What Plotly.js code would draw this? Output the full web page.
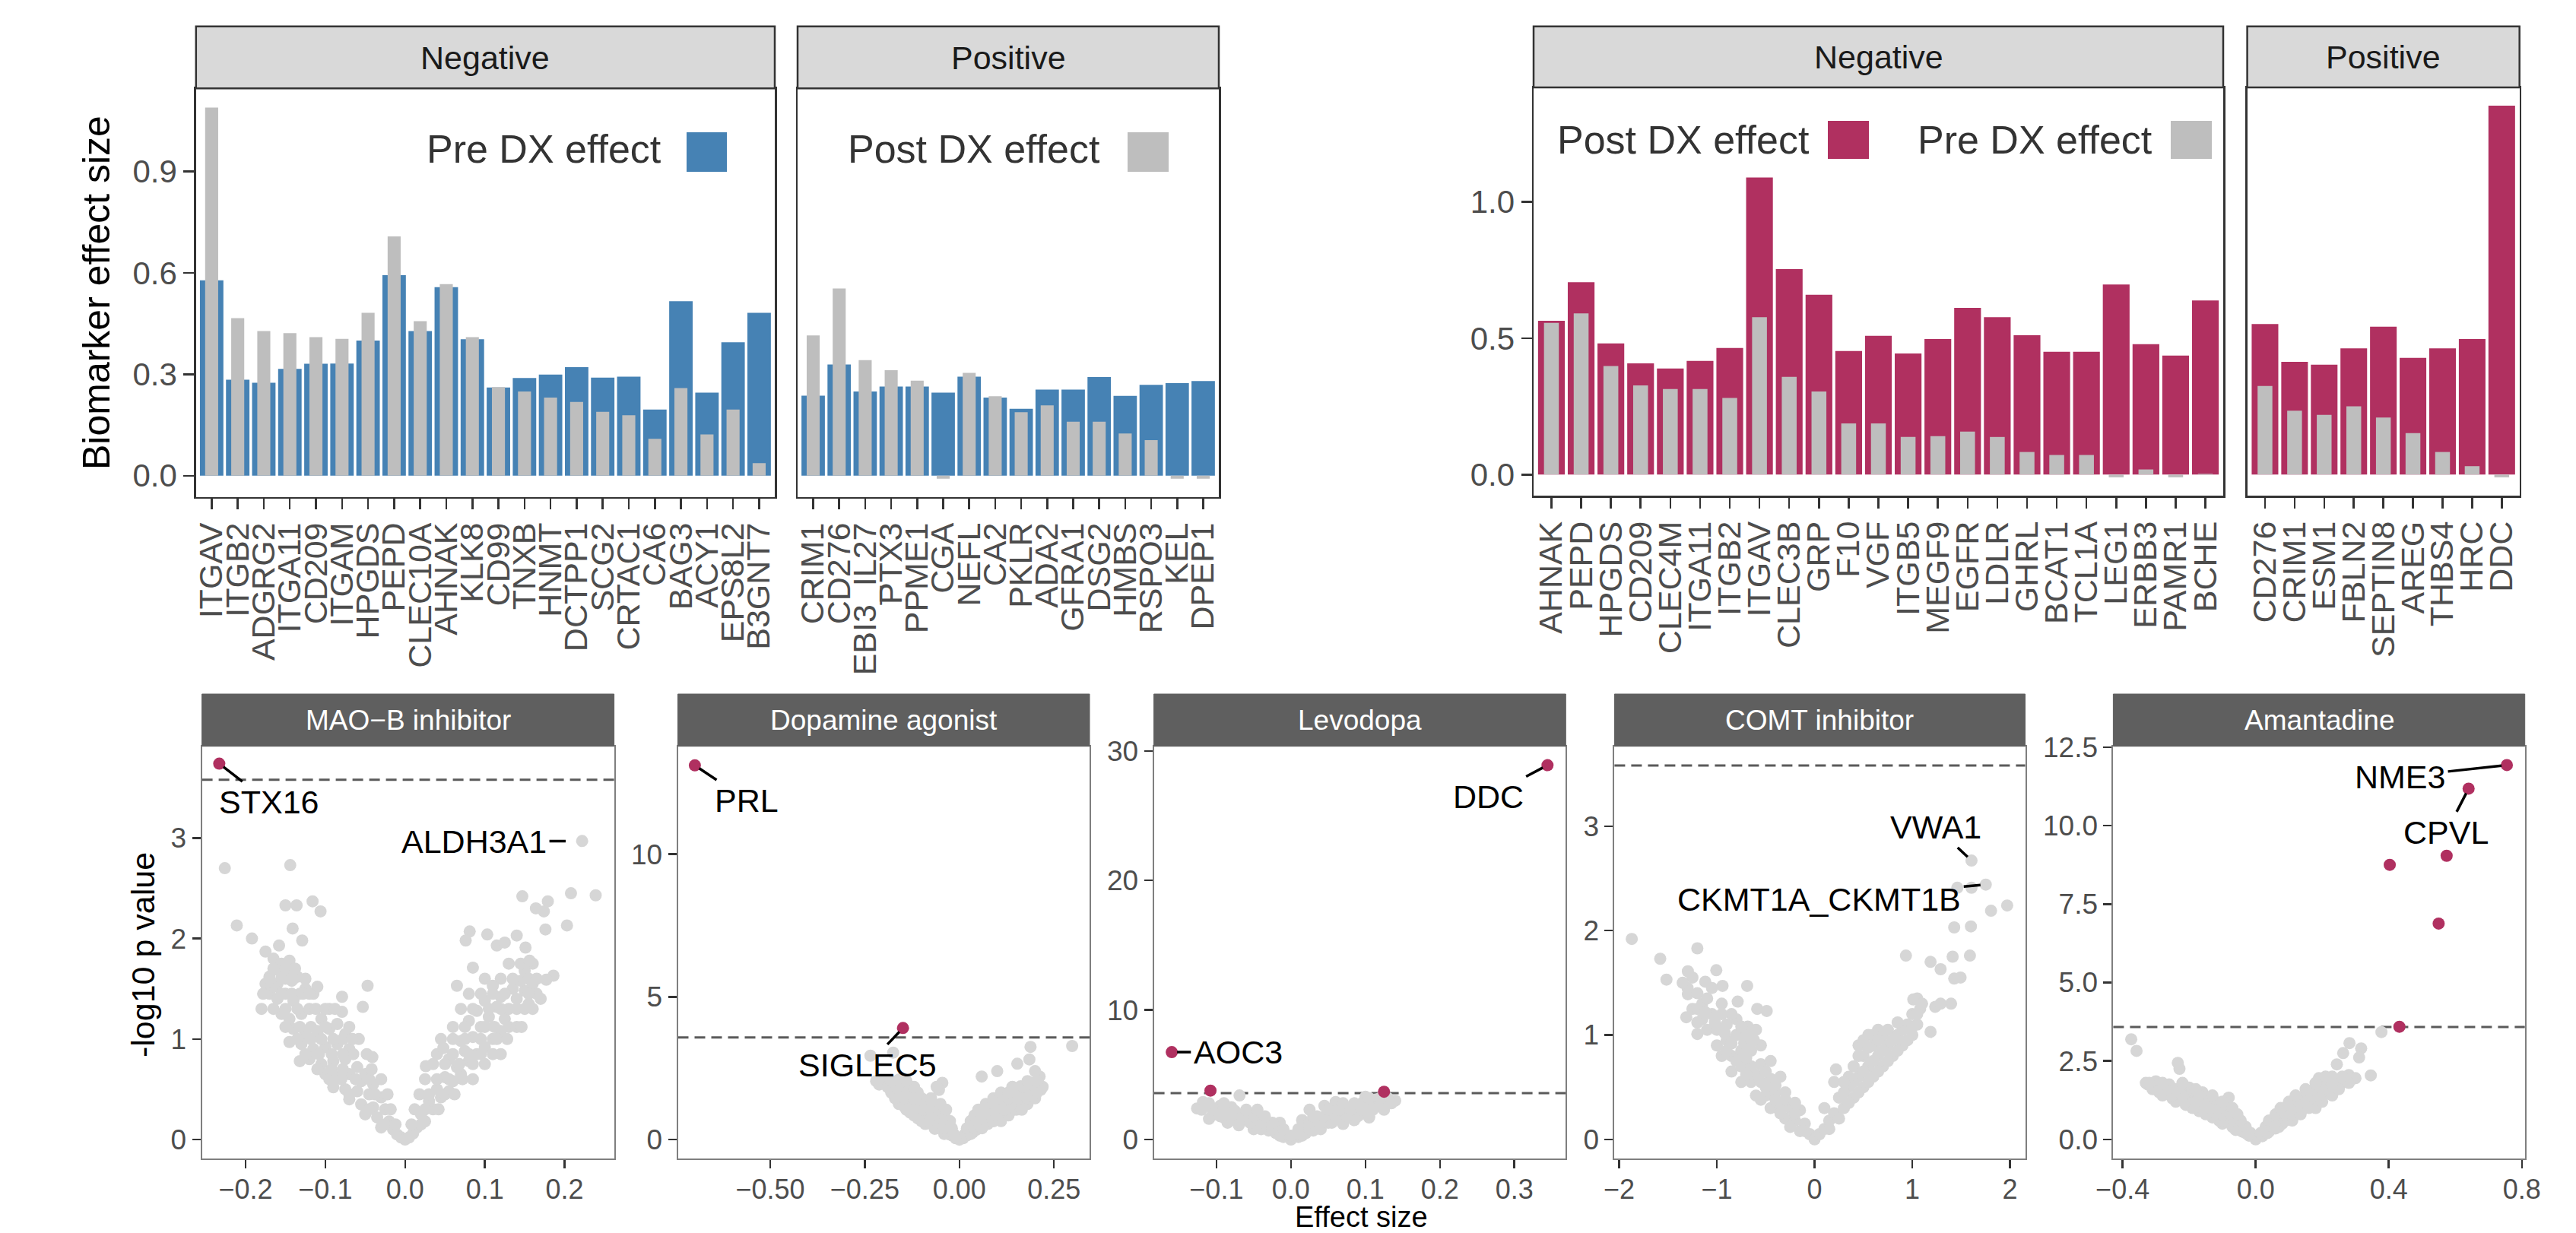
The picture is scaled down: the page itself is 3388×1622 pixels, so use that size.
<!DOCTYPE html>
<html><head><meta charset="utf-8">
<script src="https://cdn.plot.ly/plotly-3.0.1.min.js"></script>
<style>html,body{margin:0;padding:0;background:#fff;}#chart{width:3388px;height:1622px;}</style>
</head><body><div id="chart"></div>
<script>
// ================= DATA =================
// Top-left: markers ranked by Pre DX effect
const tlNegGenes = ["ITGAV","ITGB2","ADGRG2","ITGA11","CD209","ITGAM","HPGDS","PEPD","CLEC10A","AHNAK","KLK8","CD99","TNXB","HNMT","DCTPP1","SCG2","CRTAC1","CA6","BAG3","ACY1","EPS8L2","B3GNT7"];
const tlNegPre  = [0.578,0.284,0.275,0.316,0.331,0.332,0.400,0.593,0.428,0.558,0.404,0.261,0.289,0.299,0.321,0.290,0.293,0.196,0.516,0.246,0.395,0.482];
const tlNegPost = [1.089,0.466,0.428,0.422,0.410,0.405,0.482,0.708,0.457,0.567,0.410,0.262,0.249,0.231,0.218,0.189,0.179,0.109,0.259,0.122,0.196,0.037];
const tlPosGenes = ["CRIM1","CD276","EBI3_IL27","PTX3","PPME1","CGA","NEFL","CA2","PKLR","ADA2","GFRA1","DSG2","HMBS","RSPO3","KEL","DPEP1"];
const tlPosPre  = [0.237,0.329,0.249,0.264,0.264,0.246,0.293,0.231,0.198,0.255,0.255,0.292,0.236,0.269,0.274,0.280];
const tlPosPost = [0.415,0.554,0.342,0.312,0.281,-0.009,0.304,0.235,0.188,0.208,0.160,0.160,0.125,0.105,-0.009,-0.009];

// Top-right: markers ranked by Post DX effect
const trNegGenes = ["AHNAK","PEPD","HPGDS","CD209","CLEC4M","ITGA11","ITGB2","ITGAV","CLEC3B","GRP","F10","VGF","ITGB5","MEGF9","EGFR","LDLR","GHRL","BCAT1","TCL1A","LEG1","ERBB3","PAMR1","BCHE"];
const trNegPost = [0.564,0.705,0.481,0.408,0.389,0.417,0.464,1.089,0.753,0.659,0.453,0.509,0.444,0.497,0.611,0.577,0.511,0.450,0.450,0.697,0.478,0.436,0.638];
const trNegPre  = [0.556,0.591,0.398,0.327,0.314,0.314,0.281,0.577,0.358,0.305,0.188,0.188,0.138,0.141,0.158,0.138,0.083,0.072,0.072,-0.010,0.019,-0.010,0.003];
const trPosGenes = ["CD276","CRIM1","ESM1","FBLN2","SEPTIN8","AREG","THBS4","HRC","DDC"];
const trPosPost = [0.552,0.413,0.403,0.463,0.542,0.428,0.463,0.497,1.352];
const trPosPre  = [0.325,0.234,0.219,0.250,0.209,0.152,0.083,0.031,-0.010];

// Volcano panels: [effect size, -log10 p]
const threshold = 3.58;
const maobGrey = [[-0.226,2.70],[-0.144,2.73],[-0.150,2.33],[-0.136,2.33],[-0.116,2.37],[-0.106,2.27],[-0.211,2.13],[-0.192,2.00],[-0.141,2.10],[-0.129,1.98],[-0.175,1.87],[-0.158,1.93],[-0.180,1.30],[-0.047,1.53],[-0.053,1.32],[-0.079,1.42],[-0.079,1.27],[-0.058,1.00],[-0.041,0.82],[-0.145,0.97],[-0.132,0.78],
[-0.165,1.80],[-0.155,1.75],[-0.145,1.78],[-0.170,1.62],[-0.160,1.55],[-0.150,1.60],[-0.135,1.62],[-0.125,1.50],[-0.170,1.45],[-0.160,1.40],[-0.150,1.45],[-0.140,1.38],[-0.115,1.45],[-0.110,1.52],[-0.155,1.25],[-0.145,1.20],[-0.130,1.25],[-0.120,1.30],[-0.105,1.20],[-0.095,1.30],[-0.140,1.10],[-0.125,1.05],[-0.110,1.08],[-0.095,1.10],[-0.085,1.15],[-0.075,1.05],[-0.130,0.95],[-0.115,0.90],[-0.100,0.92],[-0.085,0.95],[-0.070,0.90],[-0.065,0.85],[-0.120,0.80],[-0.105,0.75],[-0.090,0.78],[-0.075,0.80],[-0.060,0.72],[-0.050,0.65],[-0.100,0.65],[-0.085,0.62],[-0.070,0.65],[-0.055,0.58],[-0.040,0.55],[-0.090,0.52],[-0.075,0.50],[-0.060,0.48],[-0.045,0.45],[-0.030,0.42],[-0.070,0.40],[-0.055,0.35],[-0.040,0.32],[-0.025,0.30],[-0.050,0.25],[-0.035,0.22],[-0.020,0.18],[-0.030,0.12],[-0.015,0.10],[-0.010,0.05],[-0.005,0.02],[0.000,0.00],
[-0.158,1.68],[-0.148,1.67],[-0.142,1.58],[-0.132,1.45],[-0.165,1.52],[-0.175,1.55],
[-0.025,0.15],[-0.012,0.15],[-0.045,0.30],[-0.018,0.30],[-0.070,0.45],[-0.038,0.45],[-0.022,0.45],[-0.095,0.60],[-0.080,0.60],[-0.062,0.60],[-0.045,0.60],[-0.030,0.60],[-0.110,0.70],[-0.092,0.70],[-0.078,0.70],[-0.042,0.70],[-0.125,0.85],[-0.108,0.85],[-0.092,0.85],[-0.078,0.85],[-0.048,0.85],[-0.135,1.00],[-0.118,1.00],[-0.105,1.00],[-0.090,1.00],[-0.078,1.00],[-0.066,1.00],[-0.150,1.12],[-0.132,1.12],[-0.118,1.12],[-0.100,1.12],[-0.070,1.12],[-0.165,1.30],[-0.150,1.30],[-0.135,1.30],[-0.112,1.30],[-0.100,1.30],[-0.088,1.30],[-0.178,1.45],[-0.155,1.45],[-0.142,1.45],[-0.128,1.45],[-0.120,1.45],[-0.170,1.60],[-0.155,1.60],[-0.140,1.60],[-0.125,1.60],[-0.165,1.70],[-0.150,1.70],[-0.138,1.70],
[0.005,0.02],[0.010,0.06],[0.015,0.12],[0.025,0.18],[0.020,0.25],[0.035,0.30],[0.030,0.38],[0.045,0.42],[0.055,0.48],[0.040,0.50],[0.060,0.58],[0.050,0.62],[0.070,0.65],[0.065,0.72],[0.080,0.78],[0.055,0.80],[0.075,0.88],[0.090,0.85],[0.100,0.92],[0.070,0.98],[0.085,1.02],[0.110,1.00],[0.120,1.08],[0.095,1.12],[0.080,1.18],[0.105,1.22],[0.125,1.20],[0.090,1.28],[0.115,1.32],[0.130,1.30],[0.100,1.38],[0.120,1.42],[0.140,1.40],[0.135,1.50],[0.150,1.48],[0.145,1.58],[0.160,1.55],[0.150,1.68],[0.165,1.45],[0.170,1.40],[0.155,1.35],
[0.008,0.15],[0.020,0.15],[0.012,0.30],[0.025,0.30],[0.042,0.30],[0.018,0.45],[0.030,0.45],[0.050,0.45],[0.062,0.45],[0.025,0.60],[0.040,0.60],[0.055,0.60],[0.072,0.60],[0.085,0.60],[0.035,0.75],[0.050,0.75],[0.068,0.75],[0.085,0.75],[0.100,0.75],[0.040,0.85],[0.060,0.85],[0.080,0.85],[0.095,0.85],[0.110,0.85],[0.120,0.85],[0.045,1.00],[0.060,1.00],[0.075,1.00],[0.095,1.00],[0.115,1.00],[0.128,1.00],[0.060,1.12],[0.075,1.12],[0.100,1.12],[0.112,1.12],[0.130,1.12],[0.140,1.12],[0.070,1.30],[0.085,1.30],[0.105,1.30],[0.120,1.30],[0.140,1.30],[0.150,1.30],[0.080,1.45],[0.095,1.45],[0.110,1.45],[0.125,1.45],[0.155,1.45],[0.100,1.60],[0.120,1.60],[0.135,1.60],[0.155,1.60],[0.165,1.60],[0.130,1.75],[0.145,1.75],[0.160,1.75],
[0.147,2.42],[0.164,2.30],[0.179,2.37],[0.174,2.27],[0.208,2.45],[0.239,2.43],[0.203,2.13],[0.176,2.09],[0.186,1.63],[0.177,1.59],[0.222,2.97],[0.140,2.03],[0.103,2.04],[0.081,2.07],[0.076,1.98],[0.115,1.93],[0.125,1.96],[0.151,1.91],[0.156,1.78],[0.085,1.71],[0.065,1.53],[0.110,1.53],[0.160,1.30],[0.146,1.12],[0.048,0.91],[0.026,0.73]];
const maobSig = [[-0.233,3.74]];
const maobLabelGenes = ["STX16","ALDH3A1"];
const maobLabelX = [-0.233,0.208];
const maobLabelY = [3.74,2.97];

const dopaGrey = [[-0.235,2.94],[-0.175,3.05],[-0.212,1.93],[-0.185,1.99],[-0.045,1.99],[-0.054,1.74],[0.059,2.21],[0.188,3.25],[0.298,3.28],[0.185,2.81],[0.153,2.66],[0.212,2.21],[0.190,1.99],[0.162,1.87],[-0.200,2.05],[-0.160,2.10],[-0.140,1.90],
[-0.175,1.75],[-0.160,1.65],[-0.170,1.50],[-0.150,1.55],[-0.130,1.50],[-0.155,1.35],[-0.140,1.30],[-0.120,1.35],[-0.100,1.45],[-0.145,1.15],[-0.125,1.10],[-0.105,1.15],[-0.085,1.25],[-0.130,0.95],[-0.110,0.90],[-0.090,0.95],[-0.070,1.05],[-0.050,1.15],[-0.110,0.75],[-0.090,0.72],[-0.070,0.75],[-0.050,0.85],[-0.090,0.55],[-0.070,0.52],[-0.050,0.55],[-0.035,0.60],[-0.065,0.38],[-0.045,0.35],[-0.030,0.30],[-0.040,0.20],[-0.020,0.15],[-0.010,0.05],[0,0],
[-0.030,0.20],[-0.015,0.20],[-0.060,0.40],[-0.040,0.40],[-0.020,0.40],[-0.100,0.65],[-0.080,0.65],[-0.060,0.65],[-0.040,0.65],[-0.025,0.65],[-0.120,0.85],[-0.100,0.85],[-0.080,0.85],[-0.060,0.85],[-0.040,0.85],[-0.140,1.05],[-0.115,1.05],[-0.095,1.05],[-0.075,1.05],[-0.055,1.05],[-0.035,1.05],[-0.160,1.25],[-0.135,1.25],[-0.110,1.25],[-0.090,1.25],[-0.070,1.25],[-0.050,1.25],[-0.170,1.45],[-0.145,1.45],[-0.120,1.45],[-0.075,1.45],[-0.180,1.65],[-0.155,1.65],[-0.130,1.65],[-0.110,1.65],[-0.190,1.85],[-0.165,1.85],[-0.120,1.85],[-0.060,1.85],[-0.220,2.05],[-0.180,2.05],[-0.140,2.05],
[0.010,0.05],[0.020,0.15],[0.035,0.25],[0.045,0.35],[0.030,0.40],[0.060,0.45],[0.050,0.55],[0.075,0.55],[0.090,0.65],[0.060,0.70],[0.080,0.80],[0.105,0.78],[0.120,0.90],[0.090,0.95],[0.070,1.00],[0.110,1.05],[0.140,1.05],[0.130,1.20],[0.160,1.20],[0.100,1.25],[0.120,1.35],[0.150,1.40],[0.175,1.35],[0.190,1.50],[0.140,1.55],[0.170,1.60],[0.200,1.65],[0.215,1.75],[0.185,1.75],[0.205,1.90],
[0.015,0.20],[0.030,0.20],[0.020,0.40],[0.040,0.40],[0.060,0.40],[0.030,0.65],[0.050,0.65],[0.070,0.65],[0.090,0.65],[0.110,0.65],[0.040,0.85],[0.060,0.85],[0.085,0.85],[0.110,0.85],[0.130,0.85],[0.050,1.05],[0.075,1.05],[0.100,1.05],[0.120,1.05],[0.150,1.05],[0.165,1.05],[0.070,1.25],[0.090,1.25],[0.115,1.25],[0.140,1.25],[0.165,1.25],[0.180,1.25],[0.090,1.45],[0.110,1.45],[0.130,1.45],[0.155,1.45],[0.180,1.45],[0.200,1.45],[0.110,1.65],[0.130,1.65],[0.155,1.65],[0.180,1.65],[0.205,1.65],[0.140,1.85],[0.170,1.85],[0.200,1.85],[0.220,1.85],[0.180,2.05],[0.205,2.05],[0.100,2.40],[0.200,2.40]];
const dopaSig = [[-0.699,13.11],[-0.149,3.91]];
const dopaLabelGenes = ["PRL","SIGLEC5"];
const dopaLabelX = [-0.699,-0.149];
const dopaLabelY = [13.11,3.91];

const levoGrey = [[-0.126,2.4],[-0.118,2.9],[-0.100,2.2],[-0.105,1.9],[-0.090,1.7],[-0.080,2.5],[-0.069,3.4],[-0.060,2.0],[-0.055,1.5],[-0.045,1.2],[-0.035,1.0],[-0.030,0.7],[-0.020,0.5],[-0.010,0.2],[0,0],[-0.085,1.3],[-0.070,1.1],[-0.075,2.2],[-0.050,0.8],[-0.110,1.6],[-0.095,2.6],
[0.010,0.2],[0.020,0.5],[0.025,2.3],[0.030,0.7],[0.040,1.0],[0.045,2.6],[0.050,1.3],[0.060,1.6],[0.070,1.2],[0.075,2.0],[0.080,2.4],[0.085,1.5],[0.090,1.9],[0.095,2.8],[0.100,2.2],[0.105,1.7],[0.110,2.5],[0.115,3.1],[0.120,2.7],[0.130,3.2],[0.135,2.9],[0.140,3.0],[0.100,3.3],[0.060,2.9],[0.015,1.5],[-0.015,1.3],[0.020,1.0],[-0.040,1.8],[0.035,1.8],
[-0.015,0.3],[0.000,0.3],[0.015,0.3],[-0.040,0.8],[-0.025,0.8],[-0.010,0.8],[0.010,0.8],[0.025,0.8],[0.040,0.8],[-0.070,1.3],[-0.055,1.3],[-0.040,1.3],[-0.025,1.3],[0.025,1.3],[0.040,1.3],[0.055,1.3],[0.070,1.3],[-0.095,1.8],[-0.080,1.8],[-0.065,1.8],[-0.050,1.8],[-0.035,1.8],[0.030,1.8],[0.045,1.8],[0.060,1.8],[0.075,1.8],[0.090,1.8],[0.105,1.8],[-0.120,2.3],[-0.105,2.3],[-0.090,2.3],[-0.060,2.3],[-0.045,2.3],[0.050,2.3],[0.065,2.3],[0.080,2.3],[0.095,2.3],[0.110,2.3],[0.125,2.3],[-0.110,2.8],[-0.090,2.8],[0.070,2.8],[0.085,2.8],[0.100,2.8],[0.120,2.8],[0.135,2.8],[0.105,3.2],[0.120,3.2]];
const levoSig = [[0.3445,28.9],[-0.160,6.75],[-0.108,3.78],[0.125,3.69]];
const levoLabelGenes = ["DDC","AOC3"];
const levoLabelX = [0.3445,-0.160];
const levoLabelY = [28.9,6.75];

const comtGrey = [[-1.871,1.92],[-1.58,1.73],[-1.516,1.53],[-1.2,1.83],[-1.297,1.61],[-1.297,1.39],[-1.313,1.17],[-1.2,1.01],[-1.006,1.62],[-1.119,1.51],[-0.942,1.47],[-0.69,1.47],[-0.787,1.32],[-0.587,1.25],[-0.49,1.23],[-0.684,1.08],[0.219,0.67],[0.935,1.76],[1.187,1.70],[1.29,1.63],[1.429,1.54],[1.494,1.55],[1.397,1.30],[1.235,1.27],[1.29,1.30],[1.187,1.03],[1.413,1.75],[1.59,1.76],[1.429,2.03],[1.6,2.04],[1.461,2.41],[1.606,2.41],[1.806,2.19],[1.971,2.24],[1.01,1.34],[1.606,2.67],[1.752,2.44],
[-1.30,1.45],[-1.25,1.55],[-1.20,1.40],[-1.15,1.30],[-1.25,1.25],[-1.10,1.35],[-1.05,1.45],[-1.15,1.15],[-1.05,1.20],[-0.95,1.30],[-1.10,1.05],[-1.00,1.05],[-0.90,1.10],[-0.80,1.15],[-1.00,0.90],[-0.90,0.95],[-0.80,1.00],[-0.70,1.00],[-0.60,1.05],[-0.95,0.80],[-0.85,0.80],[-0.75,0.85],[-0.65,0.85],[-0.55,0.90],[-0.85,0.65],[-0.75,0.70],[-0.65,0.70],[-0.55,0.72],[-0.45,0.75],[-0.75,0.55],[-0.65,0.55],[-0.55,0.55],[-0.45,0.58],[-0.35,0.60],[-0.60,0.42],[-0.50,0.42],[-0.40,0.45],[-0.30,0.45],[-0.45,0.30],[-0.35,0.32],[-0.25,0.30],[-0.15,0.28],[-0.30,0.20],[-0.20,0.18],[-0.10,0.15],[-0.15,0.08],[-0.05,0.05],[0,0],
[-1.2,1.25],[-1.12,1.22],[-1.02,1.12],[-0.92,1.02],[-0.85,0.92],[-0.72,0.92],[-0.62,0.95],[-0.9,0.85],[-0.8,0.75],[-0.7,0.78],[-0.6,0.62],[-0.5,0.65],[-0.7,0.62],[-0.4,0.52],[-0.5,0.5],[-0.55,0.38],[-0.4,0.38],[-0.3,0.38],[-0.2,0.25],[-0.35,0.25],[-0.25,0.12],[-0.1,0.08],[-0.2,0.35],[-0.85,1.2],[-0.95,1.2],[-1.2,1.12],[-1.35,1.5],[-0.75,1.08],[-0.65,0.95],
[0.05,0.05],[0.10,0.10],[0.15,0.18],[0.20,0.25],[0.10,0.30],[0.30,0.30],[0.25,0.40],[0.40,0.40],[0.35,0.50],[0.50,0.50],[0.20,0.55],[0.45,0.60],[0.60,0.60],[0.40,0.70],[0.55,0.70],[0.70,0.70],[0.50,0.80],[0.65,0.80],[0.80,0.80],[0.45,0.90],[0.60,0.90],[0.75,0.90],[0.90,0.90],[0.55,1.00],[0.70,1.00],[0.85,1.00],[1.00,1.00],[0.65,1.05],[0.95,1.10],[1.05,1.10],[1.00,1.20],[1.08,1.25],[1.05,1.35],
[0.15,0.1],[0.25,0.2],[0.35,0.35],[0.3,0.45],[0.45,0.45],[0.55,0.55],[0.4,0.55],[0.65,0.65],[0.5,0.65],[0.75,0.75],[0.6,0.75],[0.85,0.85],[0.7,0.85],[0.8,0.95],[0.9,1.05],[0.95,0.95],[1.0,1.08],[1.05,1.2],[1.1,1.3],[0.35,0.6],[0.3,0.55],[0.45,0.8],[0.55,0.88],[0.5,0.95],[0.6,1.0],[0.75,1.05],[0.85,1.12],[0.65,0.95]];
const comtSig = [];
const comtLabelGenes = ["VWA1","CKMT1A_CKMT1B"];
const comtLabelX = [1.606,1.752];
const comtLabelY = [2.67,2.44];

const amanGrey = [[-0.374,3.19],[-0.358,2.82],[-0.324,1.75],[-0.234,2.44],[-0.229,2.25],[-0.081,1.33],[0.282,3.07],[0.263,2.75],[0.317,2.90],[0.311,2.61],[0.346,2.04],[0.378,3.42],[0.244,2.39],[0.292,1.93],
[-0.33,1.80],[-0.30,1.85],[-0.28,1.70],[-0.26,1.75],[-0.31,1.60],[-0.29,1.50],[-0.27,1.45],[-0.24,1.55],[-0.22,1.60],[-0.20,1.65],[-0.25,1.30],[-0.22,1.25],[-0.20,1.40],[-0.18,1.45],[-0.16,1.50],[-0.21,1.10],[-0.18,1.05],[-0.15,1.15],[-0.12,1.20],[-0.17,0.90],[-0.14,0.85],[-0.11,0.95],[-0.09,1.00],[-0.13,0.70],[-0.10,0.65],[-0.08,0.75],[-0.10,0.50],[-0.07,0.45],[-0.05,0.50],[-0.06,0.30],[-0.04,0.25],[-0.02,0.12],[0,0],
[-0.03,0.2],[-0.015,0.2],[-0.07,0.4],[-0.05,0.4],[-0.03,0.4],[-0.11,0.6],[-0.09,0.6],[-0.065,0.6],[-0.045,0.6],[-0.15,0.8],[-0.12,0.8],[-0.10,0.8],[-0.075,0.8],[-0.055,0.8],[-0.19,1.0],[-0.16,1.0],[-0.135,1.0],[-0.11,1.0],[-0.07,1.0],[-0.24,1.2],[-0.21,1.2],[-0.18,1.2],[-0.15,1.2],[-0.10,1.2],[-0.28,1.4],[-0.25,1.4],[-0.22,1.4],[-0.17,1.4],[-0.13,1.4],[-0.30,1.6],[-0.26,1.6],[-0.24,1.6],[-0.18,1.6],[-0.32,1.8],[-0.28,1.8],[-0.22,1.8],
[0.02,0.10],[0.04,0.25],[0.06,0.35],[0.05,0.55],[0.08,0.50],[0.10,0.65],[0.08,0.80],[0.12,0.85],[0.14,0.95],[0.10,1.05],[0.16,1.10],[0.18,1.20],[0.13,1.25],[0.15,1.40],[0.20,1.35],[0.22,1.50],[0.17,1.55],[0.19,1.70],[0.24,1.65],[0.21,1.85],[0.26,1.80],[0.23,2.00],[0.28,2.05],[0.30,1.95],[0.19,1.95],
[0.015,0.2],[0.035,0.2],[0.03,0.4],[0.05,0.4],[0.07,0.4],[0.04,0.6],[0.065,0.6],[0.09,0.6],[0.11,0.6],[0.06,0.8],[0.09,0.8],[0.11,0.8],[0.135,0.8],[0.075,1.0],[0.11,1.0],[0.135,1.0],[0.16,1.0],[0.18,1.0],[0.10,1.2],[0.13,1.2],[0.155,1.2],[0.20,1.2],[0.12,1.4],[0.17,1.4],[0.19,1.4],[0.23,1.4],[0.15,1.6],[0.20,1.6],[0.25,1.6],[0.18,1.8],[0.23,1.8],[0.28,1.8],[0.21,2.0],[0.26,2.0]];
const amanSig = [[0.755,11.93],[0.640,11.18],[0.403,8.75],[0.574,9.04],[0.550,6.88],[0.432,3.59]];
const amanLabelGenes = ["NME3","CPVL"];
const amanLabelX = [0.755,0.640];
const amanLabelY = [11.93,11.18];

// ================= LAYOUT HELPERS =================
const W = 3388, H = 1622;
const px = p => p / W;
const py = p => 1 - p / H;
const FONT = "Liberation Sans, Arial, Helvetica, sans-serif";
const BLUE = "#4682B4", GREY = "#BEBEBE", MAROON = "#B03060", PTGREY = "#D6D6D6";

const traces = [];
const layout = {
  width: W, height: H, margin: {l:0, r:0, t:0, b:0},
  paper_bgcolor: "#fff", plot_bgcolor: "#fff",
  font: {family: FONT}, showlegend: false,
  barmode: "overlay", shapes: [], annotations: []
};

// ---------- bar panels ----------
function barPanel(id, genes, wide, narrow, wideColor, narrowColor, xdom, ydomPx, yrange, dtick, showY) {
  const xa = "x" + (id === 1 ? "" : id), ya = "y" + (id === 1 ? "" : id);
  traces.push({type:"bar", x:genes, y:wide, width:0.9, marker:{color:wideColor, line:{width:0}}, xaxis:xa, yaxis:ya, hoverinfo:"x+y"});
  traces.push({type:"bar", x:genes, y:narrow, width:0.5, marker:{color:narrowColor, line:{width:0}}, xaxis:xa, yaxis:ya, hoverinfo:"x+y"});
  layout["xaxis" + (id === 1 ? "" : id)] = {
    type:"category", domain:[px(xdom[0]), px(xdom[1])], anchor:ya,
    range:[-0.6, genes.length - 0.4], tickmode:"array", tickvals:genes, ticktext:genes,
    tickangle:-90, ticks:"outside", ticklen:14, tickwidth:2.5, tickcolor:"#333",
    tickfont:{size:43, color:"#4D4D4D", family:FONT}, showline:true, mirror:true, linecolor:"#333", linewidth:2.5,
    showgrid:false, zeroline:false, fixedrange:true
  };
  layout["yaxis" + (id === 1 ? "" : id)] = {
    domain:[py(ydomPx[1]), py(ydomPx[0])], anchor:xa, range:yrange, dtick:dtick, tick0:0, tickformat:".1f",
    ticks: showY ? "outside" : "", ticklen:14, tickwidth:2.5, tickcolor:"#333", showticklabels:showY,
    tickfont:{size:42, color:"#4D4D4D", family:FONT}, showline:true, mirror:true, linecolor:"#333", linewidth:2.5,
    showgrid:false, zeroline:false, fixedrange:true
  };
}
barPanel(1, tlNegGenes, tlNegPre, tlNegPost, BLUE, GREY, [257.8,1019], [116.2,653.8], [-0.063,1.146], 0.3, true);
barPanel(2, tlPosGenes, tlPosPre, tlPosPost, BLUE, GREY, [1049,1603], [116.2,653.8], [-0.063,1.146], 0.3, false);
barPanel(3, trNegGenes, trNegPost, trNegPre, MAROON, GREY, [2017,2924], [115,652], [-0.077,1.419], 0.5, true);
barPanel(4, trPosGenes, trPosPost, trPosPre, MAROON, GREY, [2955.6,3313.7], [115,652], [-0.077,1.419], 0.5, false);

// top strips
function topStrip(x0, x1, y0, y1, label) {
  layout.shapes.push({type:"rect", xref:"paper", yref:"paper", x0:px(x0), x1:px(x1), y0:py(y1), y1:py(y0),
    fillcolor:"#D9D9D9", line:{color:"#333", width:2.5}, layer:"above"});
  layout.annotations.push({xref:"paper", yref:"paper", x:px((x0+x1)/2), y:py((y0+y1)/2), text:label, showarrow:false,
    xanchor:"center", yanchor:"middle", font:{size:43, color:"#1A1A1A", family:FONT}});
}
topStrip(257.8, 1019, 34.8, 116.2, "Negative");
topStrip(1049, 1603, 34.8, 116.2, "Positive");
topStrip(2017, 2924, 34.8, 115, "Negative");
topStrip(2955.6, 3313.7, 34.8, 115, "Positive");

// in-panel legends
function legendKey(textRight, yc, sq, color, label) {
  layout.annotations.push({xref:"paper", yref:"paper", x:px(textRight), y:py(yc), text:label, showarrow:false,
    xanchor:"right", yanchor:"middle", font:{size:52, color:"#333", family:FONT}});
  layout.shapes.push({type:"rect", xref:"paper", yref:"paper", x0:px(sq[0]), x1:px(sq[1]), y0:py(sq[3]), y1:py(sq[2]),
    fillcolor:color, line:{width:0}, layer:"above"});
}
legendKey(872, 196, [903,956,174,226], BLUE, "Pre DX effect");
legendKey(1449, 196, [1483,1537,174,226], GREY, "Post DX effect");
legendKey(2382, 184, [2404,2458,159,209], MAROON, "Post DX effect");
legendKey(2833, 184, [2855,2909,159,209], GREY, "Pre DX effect");

layout.annotations.push({xref:"paper", yref:"paper", x:px(127), y:py(385), text:"Biomarker effect size", textangle:-90,
  showarrow:false, xanchor:"center", yanchor:"middle", font:{size:50, color:"#000", family:FONT}});

// ---------- volcano panels ----------
const volcano = [
  {name:"MAO\u2212B inhibitor", grey:maobGrey, sig:maobSig, lg:maobLabelGenes, lx:maobLabelX, ly:maobLabelY,
   tx:[-0.171,0.0866], ty:[3.36,2.965], xdom:[265.6,807.6], xr:[-0.2547,0.262], yr:[-0.186,3.913], xd:0.1, yd:1, xf:".1f", yf:""},
  {name:"Dopamine agonist", grey:dopaGrey, sig:dopaSig, lg:dopaLabelGenes, lx:dopaLabelX, ly:dopaLabelY,
   tx:[-0.562,-0.242], ty:[11.89,2.62], xdom:[891.5,1433], xr:[-0.744,0.344], yr:[-0.65,13.78], xd:0.25, yd:5, xf:".2f", yf:""},
  {name:"Levodopa", grey:levoGrey, sig:levoSig, lg:levoLabelGenes, lx:levoLabelX, ly:levoLabelY,
   tx:[0.265,-0.071], ty:[26.47,6.75], xdom:[1517.6,2059.3], xr:[-0.184,0.369], yr:[-1.44,30.36], xd:0.1, yd:10, xf:".1f", yf:""},
  {name:"COMT inhibitor", grey:comtGrey, sig:comtSig, lg:comtLabelGenes, lx:comtLabelX, ly:comtLabelY,
   tx:[1.242,0.048], ty:[2.99,2.30], xdom:[2123.4,2663.5], xr:[-2.048,2.155], yr:[-0.18,3.765], xd:1, yd:1, xf:"", yf:""},
  {name:"Amantadine", grey:amanGrey, sig:amanSig, lg:amanLabelGenes, lx:amanLabelX, ly:amanLabelY,
   tx:[0.434,0.572], ty:[11.56,9.78], xdom:[2779.4,3320.7], xr:[-0.428,0.809], yr:[-0.6,12.53], xd:0.4, yd:2.5, xf:".1f", yf:".1f"}
];
const vTop = 981.7, vBot = 1523.6, vStripTop = 913;
volcano.forEach((p, i) => {
  const n = 5 + i, xa = "x" + n, ya = "y" + n;
  traces.push({type:"scatter", mode:"markers", x:p.grey.map(d => d[0]), y:p.grey.map(d => d[1]), xaxis:xa, yaxis:ya,
    marker:{color:PTGREY, size:16, line:{width:0}}, hoverinfo:"x+y", cliponaxis:true});
  traces.push({type:"scatter", mode:"markers", x:p.sig.map(d => d[0]), y:p.sig.map(d => d[1]), xaxis:xa, yaxis:ya,
    marker:{color:MAROON, size:16, line:{width:0}}, hoverinfo:"x+y", cliponaxis:false});
  layout["xaxis" + n] = {domain:[px(p.xdom[0]), px(p.xdom[1])], anchor:ya, range:p.xr, dtick:p.xd, tick0:0, tickformat:p.xf,
    ticks:"outside", ticklen:11, tickwidth:2.5, tickcolor:"#333", tickfont:{size:36, color:"#4D4D4D", family:FONT},
    ticklabelstandoff:-3,
    showline:true, mirror:true, linecolor:"#7F7F7F", linewidth:2, showgrid:false, zeroline:false, fixedrange:true};
  layout["yaxis" + n] = {domain:[py(vBot), py(vTop)], anchor:xa, range:p.yr, dtick:p.yd, tick0:0, tickformat:p.yf,
    ticks:"outside", ticklen:11, tickwidth:2.5, tickcolor:"#333", tickfont:{size:37, color:"#4D4D4D", family:FONT},
    showline:true, mirror:true, linecolor:"#7F7F7F", linewidth:2, showgrid:false, zeroline:false, fixedrange:true};
  layout.shapes.push({type:"line", xref:xa + " domain", x0:0, x1:1, yref:ya, y0:threshold, y1:threshold,
    line:{color:"#5A5A5A", width:3, dash:"14px,8px"}, layer:"below"});
  layout.shapes.push({type:"rect", xref:"paper", yref:"paper", x0:px(p.xdom[0]), x1:px(p.xdom[1]), y0:py(vTop), y1:py(vStripTop),
    fillcolor:"#5F5F5F", line:{color:"#5F5F5F", width:1}, layer:"above"});
  layout.annotations.push({xref:"paper", yref:"paper", x:px((p.xdom[0]+p.xdom[1])/2), y:py((vTop+vStripTop)/2), text:p.name,
    showarrow:false, xanchor:"center", yanchor:"middle", font:{size:37, color:"#FFFFFF", family:FONT}});
  p.lg.forEach((g, k) => {
    layout.annotations.push({xref:xa, yref:ya, axref:xa, ayref:ya, x:p.lx[k], y:p.ly[k], ax:p.tx[k], ay:p.ty[k],
      text:g, showarrow:true, arrowhead:0, arrowwidth:3.5, arrowcolor:"#000", standoff:7, startstandoff:2,
      font:{size:43, color:"#000", family:FONT}});
  });
});
layout.annotations.push({xref:"paper", yref:"paper", x:px(188), y:py(1256), text:"-log10 p value", textangle:-90,
  showarrow:false, xanchor:"center", yanchor:"middle", font:{size:43, color:"#000", family:FONT}});
layout.annotations.push({xref:"paper", yref:"paper", x:px(1790), y:py(1623), text:"Effect size",
  showarrow:false, xanchor:"center", yanchor:"bottom", borderpad:0, font:{size:38, color:"#000", family:FONT}});

Plotly.newPlot("chart", traces, layout, {staticPlot:true, displayModeBar:false});
</script></body></html>
